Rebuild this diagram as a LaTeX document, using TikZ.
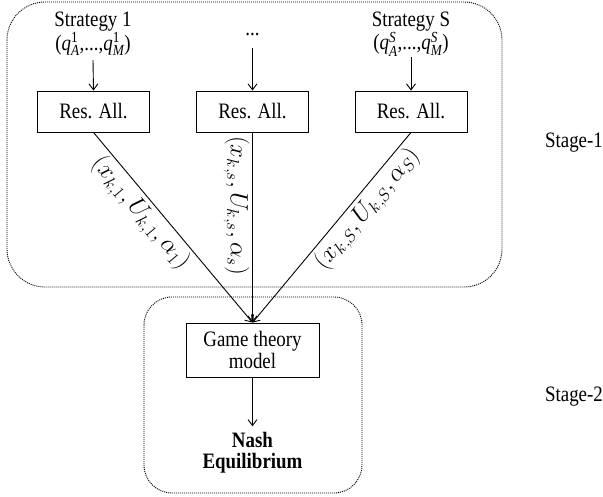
\documentclass[tikz,border=0pt]{standalone}
\usepackage{amsmath}
\usepackage{fontspec}
\setmainfont[FakeStretch=0.86]{Liberation Serif}
\usetikzlibrary{arrows.meta}
\newcommand{\qq}[1]{\text{(}\text{\itshape q}^{\text{#1}}_{\text{\itshape A}}\text{,...,}\text{\itshape q}^{\text{#1}}_{\text{\itshape M}}\text{)}}
\begin{document}
\begin{tikzpicture}[x=1pt,y=-1pt,
  resbox/.style={draw,line width=0.9pt,minimum width=112pt,minimum height=41pt,inner sep=0pt,font=\fontsize{22}{24}\selectfont},
  gamebox/.style={draw,line width=0.9pt,minimum width=133pt,minimum height=54pt,inner sep=0pt,align=center,font=\fontsize{22}{22}\selectfont},
  txt/.style={align=center,inner sep=0pt,font=\fontsize{22}{22}\selectfont},
  stagebox/.style={draw,line width=0.9pt,dash pattern=on 1pt off 1pt,rounded corners=38pt},
  arr/.style={line width=0.9pt,-{Straight Barb[length=6pt,width=9pt]}},
  lbl/.style={font=\fontsize{23}{27}\selectfont,inner sep=2.5pt}
]
\useasboundingbox (0,0) rectangle (603,497);
\draw[stagebox] (7,2) rectangle (502,287);
\draw[stagebox,rounded corners=28pt] (144,297) rectangle (362,493);

\node[txt] (s1) at (93,34) {Strategy 1\\ $\qq{1}$};
\node[txt] (sd) at (252.5,35) {...};
\node[txt] (ss) at (411,34) {Strategy S\\ $\qq{\itshape S}$};

\node[resbox] (r1) at (93.5,111.5) {Res. All.};
\node[resbox] (r2) at (252.5,111.5) {Res. All.};
\node[resbox] (r3) at (411,111.5) {Res. All.};

\node[gamebox] (g) at (252.5,350) {Game theory\\ model};
\node[txt,font=\fontsize{22}{21}\selectfont\bfseries] (ne) at (252.5,453) {Nash\\ Equilibrium};

\node[txt] (st1) at (574,143) {Stage-1};
\node[txt] (st2) at (574,397) {Stage-2};

\draw[arr] ([yshift=-4pt]s1.south) -- (r1.north);
\draw[arr] ([yshift=-12pt]sd.south) -- (r2.north);
\draw[arr] ([yshift=-1pt]ss.south) -- (r3.north);

\draw[arr] (r1.south) -- node[lbl,sloped,below,pos=0.37] {$(x_{k,1}, U_{k,1}, \alpha_1)$} (g.north);
\draw[arr] (r2.south) -- node[lbl,sloped,allow upside down,below,pos=0.385] {$(x_{k,s}, U_{k,s}, \alpha_s)$} (g.north);
\draw[arr] (r3.south) -- node[lbl,sloped,below,pos=0.35] {$(x_{k,S}, U_{k,S}, \alpha_S)$} (g.north);

\draw[arr] (g.south) -- ([yshift=6pt]ne.north);
\end{tikzpicture}
\end{document}
